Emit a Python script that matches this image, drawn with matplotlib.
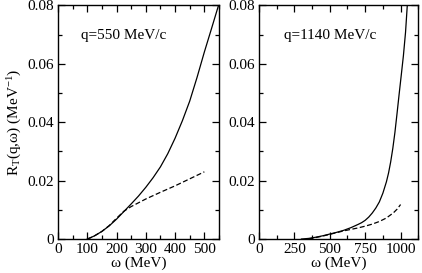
import numpy as np
import matplotlib
matplotlib.use("Agg")
import matplotlib.pyplot as plt
from matplotlib.ticker import MultipleLocator, FuncFormatter

plt.rcParams['font.family'] = ['Liberation Serif', 'DejaVu Serif']
plt.rcParams['mathtext.fontset'] = 'custom'
plt.rcParams['mathtext.rm'] = 'Liberation Serif'
plt.rcParams['mathtext.it'] = 'Liberation Serif:italic'

# q = 550 MeV/c
w550_full = [100, 110, 125, 150, 175, 200, 225, 250, 275, 300, 325, 350, 375, 400,
             425, 450, 475, 500, 525, 550]
r550_full = [0.0, 0.0004, 0.0011, 0.0026, 0.0045, 0.0068, 0.0094, 0.0120, 0.0147, 0.0177,
             0.0210, 0.0247, 0.0292, 0.0345, 0.0405, 0.0472, 0.0553, 0.0640, 0.0722, 0.0805]
w550_dash = [100, 110, 125, 150, 175, 200, 225, 250, 300, 350, 400, 450, 500]
r550_dash = [0.0, 0.0004, 0.0011, 0.0026, 0.0046, 0.0071, 0.0095, 0.0111, 0.0137, 0.0160,
             0.0182, 0.0206, 0.0230]

# q = 1140 MeV/c
w1140_full = [300, 350, 400, 450, 500, 550, 600, 650, 700, 725, 750, 775, 800, 825, 850,
              875, 900, 915, 930, 945, 960, 975, 990, 1005, 1020, 1035, 1048]
r1140_full = [0.0, 0.0002, 0.0006, 0.0011, 0.0017, 0.0023, 0.0030, 0.0039, 0.0050, 0.0056,
              0.0064, 0.0075, 0.0089, 0.0106, 0.0127, 0.0157, 0.0196, 0.0226, 0.0264, 0.0310,
              0.0365, 0.0430, 0.0497, 0.0562, 0.0628, 0.0708, 0.0805]
w1140_dash = [350, 400, 450, 500, 550, 600, 650, 700, 750, 800, 850, 900, 950, 975, 1000]
r1140_dash = [0.0, 0.0005, 0.0010, 0.0016, 0.0022, 0.0028, 0.0033, 0.0038, 0.0044, 0.0051,
              0.0060, 0.0072, 0.0090, 0.0102, 0.0118]


def fmt_y(v, pos):
    return "0" if abs(v) < 1e-12 else f"{v:.2f}"


def style(ax, xmax, xmajor, xminor):
    ax.set_xlim(0, xmax)
    ax.set_ylim(0, 0.08)
    ax.xaxis.set_major_locator(MultipleLocator(xmajor))
    ax.xaxis.set_minor_locator(MultipleLocator(xminor))
    ax.yaxis.set_major_locator(MultipleLocator(0.02))
    ax.yaxis.set_minor_locator(MultipleLocator(0.01))
    ax.yaxis.set_major_formatter(FuncFormatter(fmt_y))
    ax.tick_params(which='both', direction='in', top=True, right=True, labelsize=11, pad=3)
    ax.tick_params(which='major', length=5, width=0.9)
    ax.tick_params(which='minor', length=3, width=0.9)
    for s in ax.spines.values():
        s.set_linewidth(1.0)
    ax.set_xlabel('ω (MeV)', fontsize=11, labelpad=0)


fig = plt.figure(figsize=(4.22, 2.73), dpi=100)
ax1 = fig.add_axes([0.1374, 0.1245, 0.3815, 0.856])
ax2 = fig.add_axes([0.6137, 0.1245, 0.3775, 0.856])

ax1.plot(w550_full, r550_full, color='black', lw=0.9)
ax1.plot(w550_dash, r550_dash, color='black', lw=0.9, dashes=(4, 2))
style(ax1, 550, 100, 50)
ax1.text(0.143, 0.873, 'q=550 MeV/c', transform=ax1.transAxes, fontsize=11, va='center')
ax1.set_ylabel(r'R$_\mathrm{T}$(q,ω) (MeV$^{-1}$)', fontsize=11, labelpad=2)

ax2.plot(w1140_full, r1140_full, color='black', lw=0.9)
ax2.plot(w1140_dash, r1140_dash, color='black', lw=0.9, dashes=(4, 2))
style(ax2, 1125, 250, 125)
ax2.text(0.155, 0.873, 'q=1140 MeV/c', transform=ax2.transAxes, fontsize=11, va='center')

fig.savefig('out.png', dpi=100)
